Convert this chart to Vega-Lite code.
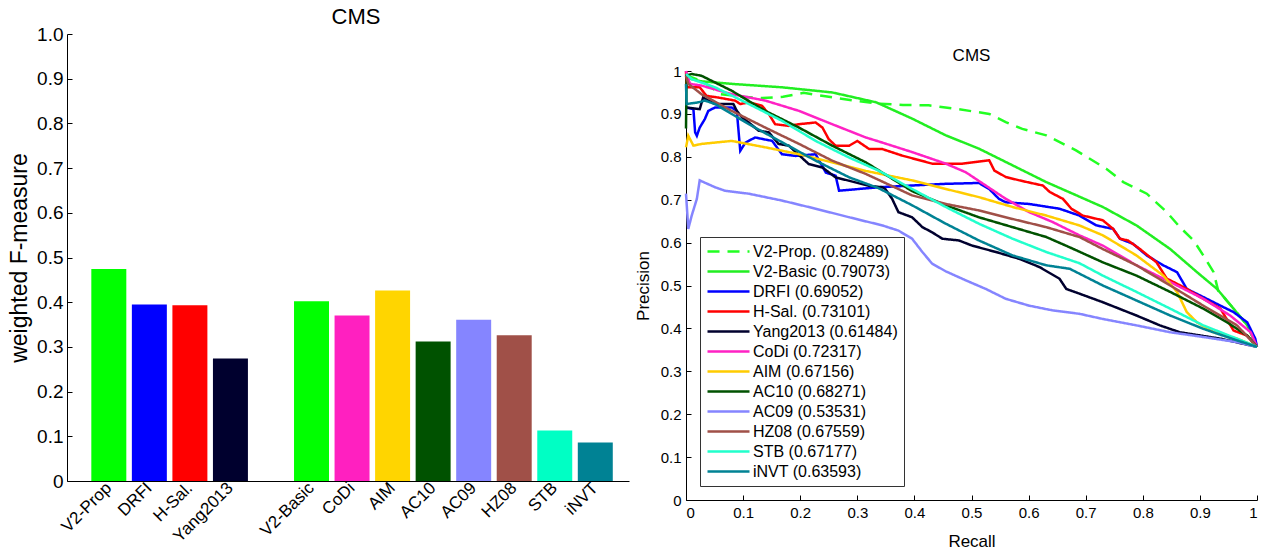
{
  "$schema": "https://vega.github.io/schema/vega-lite/v6.json",
  "background": "white",
  "padding": {"left": 8, "top": 6, "right": 2, "bottom": 5},
  "bounds": "flush",
  "spacing": 57,
  "resolve": {"scale": {"color": "independent", "strokeDash": "independent", "x": "independent", "y": "independent"}, "legend": {"color": "independent", "strokeDash": "independent"}},
  "config": {
    "font": "Liberation Sans",
    "view": {"stroke": null},
    "axis": {"domainColor": "black", "tickColor": "black", "labelColor": "black", "titleColor": "black", "grid": false, "titleFontWeight": "normal", "labelFont": "Liberation Sans", "titleFont": "Liberation Sans"},
    "title": {"fontWeight": "normal", "color": "black", "font": "Liberation Sans"}
  },
  "datasets": {
    "bars": [
      {"method": "V2-Prop", "f": 0.474},
      {"method": "DRFI", "f": 0.395},
      {"method": "H-Sal.", "f": 0.393},
      {"method": "Yang2013", "f": 0.274},
      {"method": "V2-Basic", "f": 0.402},
      {"method": "CoDi", "f": 0.370},
      {"method": "AIM", "f": 0.426},
      {"method": "AC10", "f": 0.312},
      {"method": "AC09", "f": 0.361},
      {"method": "HZ08", "f": 0.326},
      {"method": "STB", "f": 0.113},
      {"method": "iNVT", "f": 0.086}
    ],
    "auc": [
      {"method": "V2-Prop.", "label": "V2-Prop. (0.82489)"},
      {"method": "V2-Basic", "label": "V2-Basic (0.79073)"},
      {"method": "DRFI", "label": "DRFI (0.69052)"},
      {"method": "H-Sal.", "label": "H-Sal. (0.73101)"},
      {"method": "Yang2013", "label": "Yang2013 (0.61484)"},
      {"method": "CoDi", "label": "CoDi (0.72317)"},
      {"method": "AIM", "label": "AIM (0.67156)"},
      {"method": "AC10", "label": "AC10 (0.68271)"},
      {"method": "AC09", "label": "AC09 (0.53531)"},
      {"method": "HZ08", "label": "HZ08 (0.67559)"},
      {"method": "STB", "label": "STB (0.67177)"},
      {"method": "iNVT", "label": "iNVT (0.63593)"}
    ],
    "pr": [
      {"method": "V2-Prop.", "recall": 0, "precision": 0.99},
      {"method": "V2-Prop.", "recall": 0.03, "precision": 0.975},
      {"method": "V2-Prop.", "recall": 0.061, "precision": 0.946},
      {"method": "V2-Prop.", "recall": 0.1, "precision": 0.94},
      {"method": "V2-Prop.", "recall": 0.134, "precision": 0.937},
      {"method": "V2-Prop.", "recall": 0.17, "precision": 0.94},
      {"method": "V2-Prop.", "recall": 0.206, "precision": 0.949},
      {"method": "V2-Prop.", "recall": 0.25, "precision": 0.94},
      {"method": "V2-Prop.", "recall": 0.29, "precision": 0.932},
      {"method": "V2-Prop.", "recall": 0.337, "precision": 0.924},
      {"method": "V2-Prop.", "recall": 0.38, "precision": 0.921},
      {"method": "V2-Prop.", "recall": 0.425, "precision": 0.92},
      {"method": "V2-Prop.", "recall": 0.472, "precision": 0.912},
      {"method": "V2-Prop.", "recall": 0.531, "precision": 0.9},
      {"method": "V2-Prop.", "recall": 0.56, "precision": 0.881},
      {"method": "V2-Prop.", "recall": 0.589, "precision": 0.865},
      {"method": "V2-Prop.", "recall": 0.631, "precision": 0.85},
      {"method": "V2-Prop.", "recall": 0.683, "precision": 0.815},
      {"method": "V2-Prop.", "recall": 0.736, "precision": 0.772},
      {"method": "V2-Prop.", "recall": 0.766, "precision": 0.741},
      {"method": "V2-Prop.", "recall": 0.807, "precision": 0.714},
      {"method": "V2-Prop.", "recall": 0.842, "precision": 0.671},
      {"method": "V2-Prop.", "recall": 0.865, "precision": 0.636},
      {"method": "V2-Prop.", "recall": 0.889, "precision": 0.605},
      {"method": "V2-Prop.", "recall": 0.906, "precision": 0.57},
      {"method": "V2-Prop.", "recall": 0.924, "precision": 0.531},
      {"method": "V2-Prop.", "recall": 0.932, "precision": 0.488},
      {"method": "V2-Prop.", "recall": 0.959, "precision": 0.446},
      {"method": "V2-Prop.", "recall": 0.983, "precision": 0.407},
      {"method": "V2-Prop.", "recall": 1, "precision": 0.357},

      {"method": "V2-Basic", "recall": 0, "precision": 0.99},
      {"method": "V2-Basic", "recall": 0.01, "precision": 0.981},
      {"method": "V2-Basic", "recall": 0.027, "precision": 0.976},
      {"method": "V2-Basic", "recall": 0.08, "precision": 0.97},
      {"method": "V2-Basic", "recall": 0.168, "precision": 0.962},
      {"method": "V2-Basic", "recall": 0.256, "precision": 0.95},
      {"method": "V2-Basic", "recall": 0.333, "precision": 0.927},
      {"method": "V2-Basic", "recall": 0.396, "precision": 0.889},
      {"method": "V2-Basic", "recall": 0.455, "precision": 0.85},
      {"method": "V2-Basic", "recall": 0.513, "precision": 0.819},
      {"method": "V2-Basic", "recall": 0.572, "precision": 0.78},
      {"method": "V2-Basic", "recall": 0.631, "precision": 0.741},
      {"method": "V2-Basic", "recall": 0.684, "precision": 0.71},
      {"method": "V2-Basic", "recall": 0.73, "precision": 0.683},
      {"method": "V2-Basic", "recall": 0.789, "precision": 0.64},
      {"method": "V2-Basic", "recall": 0.848, "precision": 0.585},
      {"method": "V2-Basic", "recall": 0.895, "precision": 0.531},
      {"method": "V2-Basic", "recall": 0.93, "precision": 0.492},
      {"method": "V2-Basic", "recall": 0.959, "precision": 0.446},
      {"method": "V2-Basic", "recall": 0.983, "precision": 0.407},
      {"method": "V2-Basic", "recall": 1, "precision": 0.357},

      {"method": "DRFI", "recall": 0, "precision": 0.915},
      {"method": "DRFI", "recall": 0.013, "precision": 0.911},
      {"method": "DRFI", "recall": 0.016, "precision": 0.857},
      {"method": "DRFI", "recall": 0.019, "precision": 0.849},
      {"method": "DRFI", "recall": 0.024, "precision": 0.868},
      {"method": "DRFI", "recall": 0.033, "precision": 0.888},
      {"method": "DRFI", "recall": 0.039, "precision": 0.907},
      {"method": "DRFI", "recall": 0.051, "precision": 0.915},
      {"method": "DRFI", "recall": 0.08, "precision": 0.915},
      {"method": "DRFI", "recall": 0.089, "precision": 0.907},
      {"method": "DRFI", "recall": 0.095, "precision": 0.814},
      {"method": "DRFI", "recall": 0.104, "precision": 0.833},
      {"method": "DRFI", "recall": 0.121, "precision": 0.845},
      {"method": "DRFI", "recall": 0.151, "precision": 0.837},
      {"method": "DRFI", "recall": 0.168, "precision": 0.806},
      {"method": "DRFI", "recall": 0.192, "precision": 0.802},
      {"method": "DRFI", "recall": 0.227, "precision": 0.806},
      {"method": "DRFI", "recall": 0.245, "precision": 0.763},
      {"method": "DRFI", "recall": 0.262, "precision": 0.756},
      {"method": "DRFI", "recall": 0.268, "precision": 0.721},
      {"method": "DRFI", "recall": 0.303, "precision": 0.725},
      {"method": "DRFI", "recall": 0.337, "precision": 0.729},
      {"method": "DRFI", "recall": 0.395, "precision": 0.733},
      {"method": "DRFI", "recall": 0.455, "precision": 0.737},
      {"method": "DRFI", "recall": 0.513, "precision": 0.739},
      {"method": "DRFI", "recall": 0.531, "precision": 0.725},
      {"method": "DRFI", "recall": 0.548, "precision": 0.702},
      {"method": "DRFI", "recall": 0.56, "precision": 0.694},
      {"method": "DRFI", "recall": 0.601, "precision": 0.69},
      {"method": "DRFI", "recall": 0.654, "precision": 0.679},
      {"method": "DRFI", "recall": 0.689, "precision": 0.663},
      {"method": "DRFI", "recall": 0.719, "precision": 0.64},
      {"method": "DRFI", "recall": 0.748, "precision": 0.632},
      {"method": "DRFI", "recall": 0.76, "precision": 0.609},
      {"method": "DRFI", "recall": 0.783, "precision": 0.597},
      {"method": "DRFI", "recall": 0.807, "precision": 0.57},
      {"method": "DRFI", "recall": 0.836, "precision": 0.547},
      {"method": "DRFI", "recall": 0.86, "precision": 0.531},
      {"method": "DRFI", "recall": 0.877, "precision": 0.492},
      {"method": "DRFI", "recall": 0.906, "precision": 0.473},
      {"method": "DRFI", "recall": 0.936, "precision": 0.453},
      {"method": "DRFI", "recall": 0.959, "precision": 0.438},
      {"method": "DRFI", "recall": 0.983, "precision": 0.414},
      {"method": "DRFI", "recall": 0.997, "precision": 0.376},
      {"method": "DRFI", "recall": 1, "precision": 0.357},

      {"method": "H-Sal.", "recall": 0, "precision": 1.0},
      {"method": "H-Sal.", "recall": 0.001, "precision": 0.962},
      {"method": "H-Sal.", "recall": 0.024, "precision": 0.962},
      {"method": "H-Sal.", "recall": 0.036, "precision": 0.942},
      {"method": "H-Sal.", "recall": 0.057, "precision": 0.938},
      {"method": "H-Sal.", "recall": 0.086, "precision": 0.931},
      {"method": "H-Sal.", "recall": 0.095, "precision": 0.923},
      {"method": "H-Sal.", "recall": 0.11, "precision": 0.927},
      {"method": "H-Sal.", "recall": 0.133, "precision": 0.919},
      {"method": "H-Sal.", "recall": 0.145, "precision": 0.9},
      {"method": "H-Sal.", "recall": 0.156, "precision": 0.876},
      {"method": "H-Sal.", "recall": 0.18, "precision": 0.872},
      {"method": "H-Sal.", "recall": 0.198, "precision": 0.876},
      {"method": "H-Sal.", "recall": 0.227, "precision": 0.88},
      {"method": "H-Sal.", "recall": 0.239, "precision": 0.868},
      {"method": "H-Sal.", "recall": 0.25, "precision": 0.841},
      {"method": "H-Sal.", "recall": 0.262, "precision": 0.826},
      {"method": "H-Sal.", "recall": 0.286, "precision": 0.826},
      {"method": "H-Sal.", "recall": 0.3, "precision": 0.837},
      {"method": "H-Sal.", "recall": 0.321, "precision": 0.818},
      {"method": "H-Sal.", "recall": 0.344, "precision": 0.818},
      {"method": "H-Sal.", "recall": 0.378, "precision": 0.803},
      {"method": "H-Sal.", "recall": 0.395, "precision": 0.797},
      {"method": "H-Sal.", "recall": 0.431, "precision": 0.784},
      {"method": "H-Sal.", "recall": 0.484, "precision": 0.784},
      {"method": "H-Sal.", "recall": 0.531, "precision": 0.792},
      {"method": "H-Sal.", "recall": 0.54, "precision": 0.768},
      {"method": "H-Sal.", "recall": 0.56, "precision": 0.753},
      {"method": "H-Sal.", "recall": 0.584, "precision": 0.745},
      {"method": "H-Sal.", "recall": 0.625, "precision": 0.733},
      {"method": "H-Sal.", "recall": 0.637, "precision": 0.718},
      {"method": "H-Sal.", "recall": 0.66, "precision": 0.702},
      {"method": "H-Sal.", "recall": 0.675, "precision": 0.679},
      {"method": "H-Sal.", "recall": 0.695, "precision": 0.663},
      {"method": "H-Sal.", "recall": 0.73, "precision": 0.652},
      {"method": "H-Sal.", "recall": 0.748, "precision": 0.632},
      {"method": "H-Sal.", "recall": 0.76, "precision": 0.609},
      {"method": "H-Sal.", "recall": 0.774, "precision": 0.605},
      {"method": "H-Sal.", "recall": 0.795, "precision": 0.585},
      {"method": "H-Sal.", "recall": 0.824, "precision": 0.554},
      {"method": "H-Sal.", "recall": 0.842, "precision": 0.516},
      {"method": "H-Sal.", "recall": 0.86, "precision": 0.504},
      {"method": "H-Sal.", "recall": 0.877, "precision": 0.492},
      {"method": "H-Sal.", "recall": 0.906, "precision": 0.469},
      {"method": "H-Sal.", "recall": 0.936, "precision": 0.446},
      {"method": "H-Sal.", "recall": 0.959, "precision": 0.395},
      {"method": "H-Sal.", "recall": 0.983, "precision": 0.383},
      {"method": "H-Sal.", "recall": 1, "precision": 0.357},

      {"method": "Yang2013", "recall": 0, "precision": 0.915},
      {"method": "Yang2013", "recall": 0.024, "precision": 0.911},
      {"method": "Yang2013", "recall": 0.03, "precision": 0.938},
      {"method": "Yang2013", "recall": 0.051, "precision": 0.923},
      {"method": "Yang2013", "recall": 0.083, "precision": 0.923},
      {"method": "Yang2013", "recall": 0.089, "precision": 0.907},
      {"method": "Yang2013", "recall": 0.098, "precision": 0.892},
      {"method": "Yang2013", "recall": 0.11, "precision": 0.88},
      {"method": "Yang2013", "recall": 0.127, "precision": 0.861},
      {"method": "Yang2013", "recall": 0.145, "precision": 0.857},
      {"method": "Yang2013", "recall": 0.162, "precision": 0.83},
      {"method": "Yang2013", "recall": 0.18, "precision": 0.826},
      {"method": "Yang2013", "recall": 0.215, "precision": 0.783},
      {"method": "Yang2013", "recall": 0.239, "precision": 0.775},
      {"method": "Yang2013", "recall": 0.262, "precision": 0.752},
      {"method": "Yang2013", "recall": 0.286, "precision": 0.744},
      {"method": "Yang2013", "recall": 0.321, "precision": 0.732},
      {"method": "Yang2013", "recall": 0.344, "precision": 0.729},
      {"method": "Yang2013", "recall": 0.349, "precision": 0.725},
      {"method": "Yang2013", "recall": 0.361, "precision": 0.702},
      {"method": "Yang2013", "recall": 0.372, "precision": 0.671},
      {"method": "Yang2013", "recall": 0.396, "precision": 0.659},
      {"method": "Yang2013", "recall": 0.414, "precision": 0.636},
      {"method": "Yang2013", "recall": 0.431, "precision": 0.624},
      {"method": "Yang2013", "recall": 0.449, "precision": 0.609},
      {"method": "Yang2013", "recall": 0.478, "precision": 0.605},
      {"method": "Yang2013", "recall": 0.501, "precision": 0.593},
      {"method": "Yang2013", "recall": 0.543, "precision": 0.578},
      {"method": "Yang2013", "recall": 0.584, "precision": 0.562},
      {"method": "Yang2013", "recall": 0.619, "precision": 0.543},
      {"method": "Yang2013", "recall": 0.654, "precision": 0.516},
      {"method": "Yang2013", "recall": 0.666, "precision": 0.492},
      {"method": "Yang2013", "recall": 0.689, "precision": 0.481},
      {"method": "Yang2013", "recall": 0.73, "precision": 0.461},
      {"method": "Yang2013", "recall": 0.789, "precision": 0.43},
      {"method": "Yang2013", "recall": 0.83, "precision": 0.407},
      {"method": "Yang2013", "recall": 0.865, "precision": 0.391},
      {"method": "Yang2013", "recall": 0.936, "precision": 0.376},
      {"method": "Yang2013", "recall": 1, "precision": 0.357},

      {"method": "CoDi", "recall": 0, "precision": 1.0},
      {"method": "CoDi", "recall": 0.007, "precision": 0.97},
      {"method": "CoDi", "recall": 0.027, "precision": 0.966},
      {"method": "CoDi", "recall": 0.08, "precision": 0.946},
      {"method": "CoDi", "recall": 0.139, "precision": 0.931},
      {"method": "CoDi", "recall": 0.198, "precision": 0.907},
      {"method": "CoDi", "recall": 0.256, "precision": 0.876},
      {"method": "CoDi", "recall": 0.315, "precision": 0.845},
      {"method": "CoDi", "recall": 0.337, "precision": 0.836},
      {"method": "CoDi", "recall": 0.396, "precision": 0.811},
      {"method": "CoDi", "recall": 0.455, "precision": 0.784},
      {"method": "CoDi", "recall": 0.49, "precision": 0.764},
      {"method": "CoDi", "recall": 0.525, "precision": 0.733},
      {"method": "CoDi", "recall": 0.56, "precision": 0.702},
      {"method": "CoDi", "recall": 0.601, "precision": 0.671},
      {"method": "CoDi", "recall": 0.642, "precision": 0.648},
      {"method": "CoDi", "recall": 0.689, "precision": 0.617},
      {"method": "CoDi", "recall": 0.73, "precision": 0.593},
      {"method": "CoDi", "recall": 0.789, "precision": 0.547},
      {"method": "CoDi", "recall": 0.848, "precision": 0.508},
      {"method": "CoDi", "recall": 0.906, "precision": 0.469},
      {"method": "CoDi", "recall": 0.953, "precision": 0.43},
      {"method": "CoDi", "recall": 0.989, "precision": 0.391},
      {"method": "CoDi", "recall": 1, "precision": 0.357},

      {"method": "AIM", "recall": 0, "precision": 0.822},
      {"method": "AIM", "recall": 0.004, "precision": 0.849},
      {"method": "AIM", "recall": 0.013, "precision": 0.826},
      {"method": "AIM", "recall": 0.027, "precision": 0.83},
      {"method": "AIM", "recall": 0.08, "precision": 0.837},
      {"method": "AIM", "recall": 0.139, "precision": 0.822},
      {"method": "AIM", "recall": 0.198, "precision": 0.806},
      {"method": "AIM", "recall": 0.256, "precision": 0.787},
      {"method": "AIM", "recall": 0.315, "precision": 0.767},
      {"method": "AIM", "recall": 0.396, "precision": 0.745},
      {"method": "AIM", "recall": 0.455, "precision": 0.725},
      {"method": "AIM", "recall": 0.513, "precision": 0.706},
      {"method": "AIM", "recall": 0.572, "precision": 0.683},
      {"method": "AIM", "recall": 0.631, "precision": 0.663},
      {"method": "AIM", "recall": 0.689, "precision": 0.64},
      {"method": "AIM", "recall": 0.73, "precision": 0.617},
      {"method": "AIM", "recall": 0.789, "precision": 0.57},
      {"method": "AIM", "recall": 0.836, "precision": 0.523},
      {"method": "AIM", "recall": 0.86, "precision": 0.485},
      {"method": "AIM", "recall": 0.877, "precision": 0.438},
      {"method": "AIM", "recall": 0.895, "precision": 0.414},
      {"method": "AIM", "recall": 0.924, "precision": 0.391},
      {"method": "AIM", "recall": 0.965, "precision": 0.376},
      {"method": "AIM", "recall": 1, "precision": 0.357},

      {"method": "AC10", "recall": 0, "precision": 0.866},
      {"method": "AC10", "recall": 0.001, "precision": 0.99},
      {"method": "AC10", "recall": 0.01, "precision": 0.993},
      {"method": "AC10", "recall": 0.027, "precision": 0.989},
      {"method": "AC10", "recall": 0.08, "precision": 0.954},
      {"method": "AC10", "recall": 0.139, "precision": 0.907},
      {"method": "AC10", "recall": 0.198, "precision": 0.868},
      {"method": "AC10", "recall": 0.256, "precision": 0.826},
      {"method": "AC10", "recall": 0.315, "precision": 0.787},
      {"method": "AC10", "recall": 0.396, "precision": 0.72},
      {"method": "AC10", "recall": 0.455, "precision": 0.687},
      {"method": "AC10", "recall": 0.513, "precision": 0.659},
      {"method": "AC10", "recall": 0.572, "precision": 0.636},
      {"method": "AC10", "recall": 0.631, "precision": 0.613},
      {"method": "AC10", "recall": 0.672, "precision": 0.589},
      {"method": "AC10", "recall": 0.73, "precision": 0.554},
      {"method": "AC10", "recall": 0.789, "precision": 0.523},
      {"method": "AC10", "recall": 0.848, "precision": 0.485},
      {"method": "AC10", "recall": 0.906, "precision": 0.446},
      {"method": "AC10", "recall": 0.948, "precision": 0.414},
      {"method": "AC10", "recall": 0.983, "precision": 0.383},
      {"method": "AC10", "recall": 1, "precision": 0.357},

      {"method": "AC09", "recall": 0, "precision": 0.714},
      {"method": "AC09", "recall": 0.004, "precision": 0.632},
      {"method": "AC09", "recall": 0.01, "precision": 0.663},
      {"method": "AC09", "recall": 0.019, "precision": 0.702},
      {"method": "AC09", "recall": 0.024, "precision": 0.745},
      {"method": "AC09", "recall": 0.051, "precision": 0.729},
      {"method": "AC09", "recall": 0.068, "precision": 0.721},
      {"method": "AC09", "recall": 0.11, "precision": 0.714},
      {"method": "AC09", "recall": 0.168, "precision": 0.698},
      {"method": "AC09", "recall": 0.227, "precision": 0.679},
      {"method": "AC09", "recall": 0.286, "precision": 0.659},
      {"method": "AC09", "recall": 0.344, "precision": 0.64},
      {"method": "AC09", "recall": 0.372, "precision": 0.628},
      {"method": "AC09", "recall": 0.396, "precision": 0.609},
      {"method": "AC09", "recall": 0.414, "precision": 0.578},
      {"method": "AC09", "recall": 0.431, "precision": 0.551},
      {"method": "AC09", "recall": 0.455, "precision": 0.533},
      {"method": "AC09", "recall": 0.49, "precision": 0.512},
      {"method": "AC09", "recall": 0.525, "precision": 0.492},
      {"method": "AC09", "recall": 0.56, "precision": 0.469},
      {"method": "AC09", "recall": 0.601, "precision": 0.453},
      {"method": "AC09", "recall": 0.642, "precision": 0.442},
      {"method": "AC09", "recall": 0.689, "precision": 0.434},
      {"method": "AC09", "recall": 0.73, "precision": 0.422},
      {"method": "AC09", "recall": 0.789, "precision": 0.407},
      {"method": "AC09", "recall": 0.848, "precision": 0.391},
      {"method": "AC09", "recall": 0.906, "precision": 0.38},
      {"method": "AC09", "recall": 0.965, "precision": 0.368},
      {"method": "AC09", "recall": 1, "precision": 0.357},

      {"method": "HZ08", "recall": 0, "precision": 0.989},
      {"method": "HZ08", "recall": 0.004, "precision": 0.97},
      {"method": "HZ08", "recall": 0.027, "precision": 0.946},
      {"method": "HZ08", "recall": 0.08, "precision": 0.907},
      {"method": "HZ08", "recall": 0.139, "precision": 0.868},
      {"method": "HZ08", "recall": 0.198, "precision": 0.83},
      {"method": "HZ08", "recall": 0.256, "precision": 0.791},
      {"method": "HZ08", "recall": 0.315, "precision": 0.76},
      {"method": "HZ08", "recall": 0.396, "precision": 0.71},
      {"method": "HZ08", "recall": 0.455, "precision": 0.69},
      {"method": "HZ08", "recall": 0.513, "precision": 0.675},
      {"method": "HZ08", "recall": 0.572, "precision": 0.655},
      {"method": "HZ08", "recall": 0.631, "precision": 0.636},
      {"method": "HZ08", "recall": 0.689, "precision": 0.613},
      {"method": "HZ08", "recall": 0.73, "precision": 0.585},
      {"method": "HZ08", "recall": 0.789, "precision": 0.547},
      {"method": "HZ08", "recall": 0.848, "precision": 0.5},
      {"method": "HZ08", "recall": 0.906, "precision": 0.453},
      {"method": "HZ08", "recall": 0.965, "precision": 0.407},
      {"method": "HZ08", "recall": 1, "precision": 0.357},

      {"method": "STB", "recall": 0, "precision": 0.993},
      {"method": "STB", "recall": 0.01, "precision": 0.981},
      {"method": "STB", "recall": 0.051, "precision": 0.962},
      {"method": "STB", "recall": 0.11, "precision": 0.923},
      {"method": "STB", "recall": 0.168, "precision": 0.884},
      {"method": "STB", "recall": 0.227, "precision": 0.837},
      {"method": "STB", "recall": 0.286, "precision": 0.798},
      {"method": "STB", "recall": 0.337, "precision": 0.768},
      {"method": "STB", "recall": 0.396, "precision": 0.725},
      {"method": "STB", "recall": 0.455, "precision": 0.683},
      {"method": "STB", "recall": 0.513, "precision": 0.644},
      {"method": "STB", "recall": 0.572, "precision": 0.609},
      {"method": "STB", "recall": 0.631, "precision": 0.578},
      {"method": "STB", "recall": 0.689, "precision": 0.552},
      {"method": "STB", "recall": 0.73, "precision": 0.523},
      {"method": "STB", "recall": 0.789, "precision": 0.485},
      {"method": "STB", "recall": 0.848, "precision": 0.446},
      {"method": "STB", "recall": 0.906, "precision": 0.407},
      {"method": "STB", "recall": 0.965, "precision": 0.376},
      {"method": "STB", "recall": 1, "precision": 0.357},

      {"method": "iNVT", "recall": 0, "precision": 0.97},
      {"method": "iNVT", "recall": 0.001, "precision": 0.923},
      {"method": "iNVT", "recall": 0.022, "precision": 0.927},
      {"method": "iNVT", "recall": 0.033, "precision": 0.931},
      {"method": "iNVT", "recall": 0.051, "precision": 0.923},
      {"method": "iNVT", "recall": 0.11, "precision": 0.876},
      {"method": "iNVT", "recall": 0.168, "precision": 0.834},
      {"method": "iNVT", "recall": 0.227, "precision": 0.791},
      {"method": "iNVT", "recall": 0.286, "precision": 0.752},
      {"method": "iNVT", "recall": 0.337, "precision": 0.727},
      {"method": "iNVT", "recall": 0.396, "precision": 0.687},
      {"method": "iNVT", "recall": 0.455, "precision": 0.644},
      {"method": "iNVT", "recall": 0.513, "precision": 0.605},
      {"method": "iNVT", "recall": 0.572, "precision": 0.57},
      {"method": "iNVT", "recall": 0.631, "precision": 0.547},
      {"method": "iNVT", "recall": 0.672, "precision": 0.539},
      {"method": "iNVT", "recall": 0.73, "precision": 0.5},
      {"method": "iNVT", "recall": 0.789, "precision": 0.465},
      {"method": "iNVT", "recall": 0.848, "precision": 0.43},
      {"method": "iNVT", "recall": 0.906, "precision": 0.399},
      {"method": "iNVT", "recall": 0.965, "precision": 0.372},
      {"method": "iNVT", "recall": 1, "precision": 0.357}
    ]
  },
  "hconcat": [
    {
      "width": 562,
      "height": 447,
      "title": {"text": "CMS", "fontSize": 22, "offset": -4, "dx": 8},
      "data": {"name": "bars"},
      "mark": {"type": "bar"},
      "encoding": {
        "x": {
          "field": "method", "type": "nominal", "sort": null,
          "scale": {"domain": ["V2-Prop", "DRFI", "H-Sal.", "Yang2013", " ", "V2-Basic", "CoDi", "AIM", "AC10", "AC09", "HZ08", "STB", "iNVT"], "paddingInner": 0.137, "paddingOuter": 0.5, "align": 0.6},
          "axis": {"title": null, "labelAngle": -45, "labelAlign": "right", "labelBaseline": "middle", "labelFontSize": 17, "ticks": false, "labelPadding": 4, "domainColor": "black"}
        },
        "y": {
          "field": "f", "type": "quantitative",
          "scale": {"domain": [0, 1], "nice": false},
          "axis": {"title": "weighted F-measure", "titleFontSize": 23, "labelFontSize": 19, "values": [0, 0.1, 0.2, 0.3, 0.4, 0.5, 0.6, 0.7, 0.8, 0.9, 1], "labelExpr": "datum.value == 0 ? '0' : format(datum.value, '.1f')", "tickSize": -5, "labelPadding": 9, "titlePadding": 5}
        },
        "color": {
          "field": "method", "type": "nominal", "legend": null,
          "scale": {"domain": ["V2-Prop", "DRFI", "H-Sal.", "Yang2013", "V2-Basic", "CoDi", "AIM", "AC10", "AC09", "HZ08", "STB", "iNVT"],
                    "range": ["#00ff00", "#0000ff", "#ff0000", "#00002e", "#00ff00", "#ff20c0", "#ffd500", "#005200", "#8585ff", "#a05048", "#00ffc4", "#008294"]}
        }
      }
    },
    {
      "width": 571,
      "height": 466,
      "title": {"text": "CMS", "fontSize": 17, "offset": -31},
      "data": {"name": "pr"},
      "transform": [{"lookup": "method", "from": {"data": {"name": "auc"}, "key": "method", "fields": ["label"]}}],
      "mark": {"type": "line", "strokeWidth": 2.5},
      "encoding": {
        "x": {
          "field": "recall", "type": "quantitative",
          "scale": {"domain": [0, 1], "nice": false},
          "axis": {"title": "Recall", "titleFontSize": 17, "labelFontSize": 15, "values": [0, 0.1, 0.2, 0.3, 0.4, 0.5, 0.6, 0.7, 0.8, 0.9, 1], "labelExpr": "datum.value == 0 ? '0' : datum.value == 1 ? '1' : format(datum.value, '.1f')", "tickSize": -5, "labelPadding": 10, "titlePadding": 13}
        },
        "y": {
          "field": "precision", "type": "quantitative",
          "scale": {"domain": [0, 1], "nice": false, "range": [466, 37]},
          "axis": {"title": "Precision", "titleFontSize": 17, "labelFontSize": 15, "values": [0, 0.1, 0.2, 0.3, 0.4, 0.5, 0.6, 0.7, 0.8, 0.9, 1], "labelExpr": "datum.value == 0 ? '0' : datum.value == 1 ? '1' : format(datum.value, '.1f')", "tickSize": -5, "labelPadding": 10, "titlePadding": 8}
        },
        "color": {
          "field": "label", "type": "nominal",
          "scale": {"domain": ["V2-Prop. (0.82489)", "V2-Basic (0.79073)", "DRFI (0.69052)", "H-Sal. (0.73101)", "Yang2013 (0.61484)", "CoDi (0.72317)", "AIM (0.67156)", "AC10 (0.68271)", "AC09 (0.53531)", "HZ08 (0.67559)", "STB (0.67177)", "iNVT (0.63593)"],
                    "range": ["#22ff22", "#22ee22", "#0000ff", "#ff0000", "#00002e", "#ff22c4", "#ffcc00", "#005200", "#8585ff", "#a05048", "#22ffcc", "#008294"]},
          "legend": {"title": null, "orient": "bottom-left", "offset": 14, "symbolType": "M-3,0L3,0", "symbolSize": 196, "symbolOffset": 14, "symbolStrokeWidth": 2.5, "labelFontSize": 16, "labelColor": "black", "strokeColor": "#333333", "fillColor": "white", "padding": 6, "rowPadding": 3, "labelOffset": 16, "labelLimit": 300}
        },
        "strokeDash": {
          "field": "label", "type": "nominal",
          "scale": {"domain": ["V2-Prop. (0.82489)", "V2-Basic (0.79073)", "DRFI (0.69052)", "H-Sal. (0.73101)", "Yang2013 (0.61484)", "CoDi (0.72317)", "AIM (0.67156)", "AC10 (0.68271)", "AC09 (0.53531)", "HZ08 (0.67559)", "STB (0.67177)", "iNVT (0.63593)"],
                    "range": [[12, 8], [1, 0], [1, 0], [1, 0], [1, 0], [1, 0], [1, 0], [1, 0], [1, 0], [1, 0], [1, 0], [1, 0]]},
          "legend": {"title": null, "orient": "bottom-left", "offset": 14, "symbolType": "M-3,0L3,0", "symbolSize": 196, "symbolOffset": 14, "symbolStrokeWidth": 2.5, "labelFontSize": 16, "labelColor": "black", "strokeColor": "#333333", "fillColor": "white", "padding": 6, "rowPadding": 3, "labelOffset": 16, "labelLimit": 300}
        }
      }
    }
  ]
}
